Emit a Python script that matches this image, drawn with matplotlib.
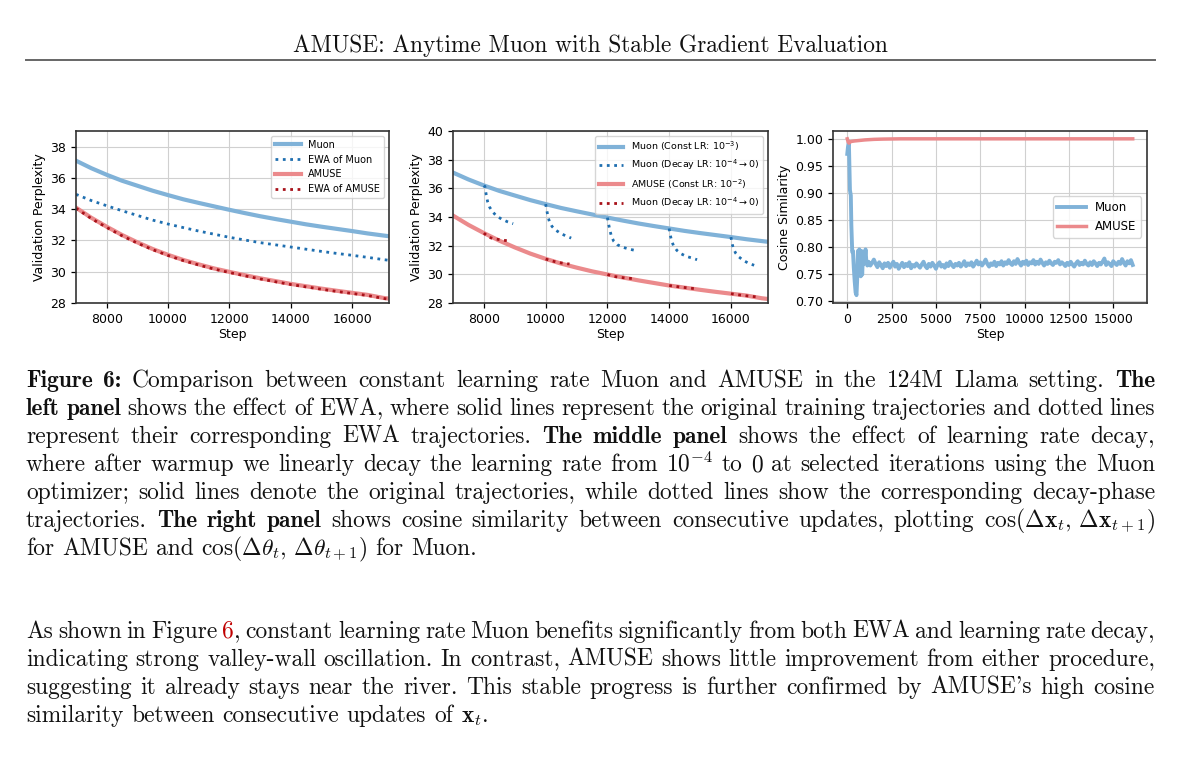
import re
import matplotlib
matplotlib.use("Agg")
import matplotlib.pyplot as plt

W, H = 1200, 764

# ---- left / middle panel: validation perplexity ----
steps = [7000, 7500, 8000, 8500, 9000, 9500, 10000, 10500, 11000, 11500, 12000,
         12500, 13000, 13500, 14000, 14500, 15000, 15500, 16000, 16500, 17000, 17200]
muon_ppl = [37.1, 36.62, 36.2, 35.82, 35.5, 35.18, 34.9, 34.63, 34.4, 34.18, 33.96,
            33.75, 33.55, 33.37, 33.2, 33.03, 32.88, 32.74, 32.6, 32.45, 32.32, 32.27]
muon_ewa = [34.95, 34.55, 34.22, 33.9, 33.6, 33.3, 33.05, 32.82, 32.6, 32.4, 32.2,
            32.03, 31.86, 31.72, 31.58, 31.44, 31.3, 31.17, 31.05, 30.92, 30.78, 30.73]
amuse_ppl = [34.1, 33.45, 32.88, 32.35, 31.88, 31.45, 31.08, 30.75, 30.47, 30.21, 29.99,
             29.78, 29.58, 29.4, 29.22, 29.07, 28.92, 28.78, 28.65, 28.52, 28.33, 28.28]
amuse_ewa = [34.06, 33.4, 32.83, 32.3, 31.83, 31.41, 31.04, 30.71, 30.43, 30.17, 29.95,
             29.74, 29.54, 29.36, 29.18, 29.03, 28.88, 28.74, 28.61, 28.48, 28.3, 28.24]

# decay-phase runs started from the constant-LR checkpoints
muon_decay_steps = [
    [8000, 8033, 8076, 8120, 8185, 8272, 8403, 8577, 8762, 8947],
    [10000, 10033, 10076, 10120, 10207, 10316, 10468, 10642, 10827],
    [12000, 12033, 12076, 12131, 12207, 12316, 12511, 12707, 12892],
    [14000, 14033, 14076, 14141, 14250, 14381, 14555, 14740, 14903],
    [16000, 16033, 16076, 16152, 16261, 16403, 16555, 16751],
]
muon_decay_ppl = [
    [36.2, 36.13, 35.55, 35.08, 34.69, 34.39, 34.08, 33.85, 33.67, 33.53],
    [34.9, 34.5, 34.04, 33.69, 33.34, 33.1, 32.88, 32.69, 32.53],
    [33.96, 33.57, 33.11, 32.65, 32.3, 32.07, 31.88, 31.76, 31.67],
    [33.2, 32.76, 32.37, 31.99, 31.67, 31.44, 31.25, 31.14, 31.02],
    [32.6, 32.18, 31.83, 31.48, 31.21, 30.97, 30.79, 30.63],
]
amuse_decay_steps = [
    [8000, 8141, 8326, 8544, 8762],
    [10000, 10174, 10392, 10577, 10773],
    [12000, 12185, 12403, 12620, 12838],
    [14000, 14196, 14414, 14631, 14816],
    [16000, 16207, 16425, 16642, 16860],
]
amuse_decay_ppl = [
    [32.88, 32.6, 32.48, 32.41, 32.34],
    [31.07, 30.95, 30.84, 30.77, 30.72],
    [29.99, 29.86, 29.79, 29.74, 29.70],
    [29.22, 29.16, 29.1, 29.05, 29.0],
    [28.65, 28.58, 28.52, 28.47, 28.42],
]

# ---- right panel: cosine similarity of consecutive updates ----
cos_steps_early = [0, 40, 90, 150, 200, 230, 280, 320, 370, 420, 470, 520, 560, 600,
                   640, 680, 720, 760, 800, 840, 880, 930, 980, 1030, 1080, 1130]
muon_cos_early = [0.972, 0.985, 0.995, 0.905, 0.895, 0.84, 0.79, 0.792, 0.76, 0.735,
                  0.715, 0.71, 0.74, 0.792, 0.76, 0.795, 0.775, 0.745, 0.792, 0.748,
                  0.78, 0.768, 0.775, 0.795, 0.77, 0.765]
cos_steps_late = list(range(1200, 16200, 100))
muon_cos_late = [
    0.772, 0.765, 0.770, 0.776, 0.768, 0.762, 0.771, 0.766, 0.760, 0.769,
    0.764, 0.770, 0.761, 0.767, 0.772, 0.763, 0.768, 0.759, 0.765, 0.770,
    0.762, 0.768, 0.764, 0.771, 0.760, 0.766, 0.763, 0.769, 0.765, 0.761,
    0.767, 0.772, 0.764, 0.760, 0.768, 0.763, 0.770, 0.765, 0.759, 0.767,
    0.771, 0.763, 0.766, 0.761, 0.769, 0.764, 0.772, 0.766, 0.762, 0.768,
    0.765, 0.770, 0.763, 0.767, 0.773, 0.764, 0.769, 0.766, 0.771, 0.763,
    0.768, 0.774, 0.767, 0.771, 0.765, 0.770, 0.776, 0.768, 0.763, 0.769,
    0.766, 0.772, 0.764, 0.770, 0.767, 0.773, 0.765, 0.771, 0.768, 0.775,
    0.769, 0.766, 0.773, 0.768, 0.777, 0.770, 0.765, 0.772, 0.768, 0.774,
    0.766, 0.771, 0.769, 0.775, 0.767, 0.772, 0.768, 0.776, 0.770, 0.765,
    0.771, 0.768, 0.774, 0.769, 0.766, 0.772, 0.770, 0.775, 0.767, 0.771,
    0.768, 0.764, 0.770, 0.766, 0.772, 0.767, 0.763, 0.769, 0.773, 0.766,
    0.770, 0.767, 0.774, 0.768, 0.765, 0.771, 0.766, 0.773, 0.769, 0.764,
    0.770, 0.767, 0.772, 0.778, 0.766, 0.771, 0.768, 0.764, 0.773, 0.769,
    0.766, 0.772, 0.768, 0.777, 0.770, 0.765, 0.773, 0.769, 0.775, 0.766,
]
amuse_cos_steps = [0, 50, 100, 200, 400, 700, 1000, 1500, 2000, 3000, 5000, 16100]
amuse_cos = [1.0, 0.994, 0.992, 0.995, 0.996, 0.997, 0.998, 0.999, 0.9995, 1.0, 1.0, 1.0]

# ---- page text ----
header = "AMUSE: Anytime Muon with Stable Gradient Evaluation"
caption_lines = [
    "**Figure 6:** Comparison between constant learning rate Muon and AMUSE in the 124M Llama setting. **The**",
    "**left panel** shows the effect of EWA, where solid lines represent the original training trajectories and dotted lines",
    "represent their corresponding EWA trajectories. **The middle panel** shows the effect of learning rate decay,",
    "where after warmup we linearly decay the learning rate from $10^{-4}$ to 0 at selected iterations using the Muon",
    "optimizer; solid lines denote the original trajectories, while dotted lines show the corresponding decay-phase",
    "trajectories. **The right panel** shows cosine similarity between consecutive updates, plotting "
    r"$\cos(\Delta\mathbf{x}_t,\,\Delta\mathbf{x}_{t+1})$",
    r"for AMUSE and $\cos(\Delta\theta_t,\,\Delta\theta_{t+1})$ for Muon.",
]
body_lines = [
    "As shown in Figure [[6]], constant learning rate Muon benefits significantly from both EWA and learning rate decay,",
    "indicating strong valley-wall oscillation. In contrast, AMUSE shows little improvement from either procedure,",
    "suggesting it already stays near the river. This stable progress is further confirmed by AMUSE's high cosine",
    r"similarity between consecutive updates of $\mathbf{x}_t$.",
]

BLUE = "#80b2d8"
RED = "#eb8a8c"
BLUE_DOT = "#1f6fb0"
RED_DOT = "#a8121a"
LINK_RED = "#c00000"

fig = plt.figure(figsize=(W / 100, H / 100), dpi=100)


def px_axes(x0, y0, x1, y1):
    return fig.add_axes([x0 / W, 1 - y1 / H, (x1 - x0) / W, (y1 - y0) / H])


def style(ax):
    ax.grid(True, color="#d0d0d0", linewidth=0.8)
    ax.set_axisbelow(True)
    for s in ax.spines.values():
        s.set_linewidth(1.2)
        s.set_color("#333333")
    ax.tick_params(labelsize=9, width=0.9, length=3.5)


# left panel
ax1 = px_axes(76, 131, 389, 303)
ax1.plot(steps, muon_ppl, color=BLUE, lw=3, label="Muon")
ax1.plot(steps, muon_ewa, color=BLUE_DOT, lw=2, ls=":", label="EWA of Muon")
ax1.plot(steps, amuse_ppl, color=RED, lw=3, label="AMUSE")
ax1.plot(steps, amuse_ewa, color=RED_DOT, lw=2, ls=":", label="EWA of AMUSE")
ax1.set_xlim(7000, 17200)
ax1.set_ylim(28, 39)
ax1.set_xticks([8000, 10000, 12000, 14000, 16000])
ax1.set_yticks([28, 30, 32, 34, 36, 38])
ax1.set_xlabel("Step", fontsize=9, labelpad=2)
ax1.set_ylabel("Validation Perplexity", fontsize=9, labelpad=3)
ax1.legend(loc="upper right", fontsize=7, handlelength=2.6, borderaxespad=0.5)
style(ax1)

# middle panel
ax2 = px_axes(453, 131, 768, 303)
ax2.plot(steps, muon_ppl, color=BLUE, lw=3, label=r"Muon (Const LR: $10^{-3}$)")
for i, (s, v) in enumerate(zip(muon_decay_steps, muon_decay_ppl)):
    ax2.plot(s, v, color=BLUE_DOT, lw=2, ls=":",
             label=r"Muon (Decay LR: $10^{-4} \rightarrow 0$)" if i == 0 else None)
ax2.plot(steps, amuse_ppl, color=RED, lw=3, label=r"AMUSE (Const LR: $10^{-2}$)")
for i, (s, v) in enumerate(zip(amuse_decay_steps, amuse_decay_ppl)):
    ax2.plot(s, v, color=RED_DOT, lw=2, ls=":",
             label=r"Muon (Decay LR: $10^{-4} \rightarrow 0$)" if i == 0 else None)
ax2.set_xlim(7000, 17200)
ax2.set_ylim(28, 40)
ax2.set_xticks([8000, 10000, 12000, 14000, 16000])
ax2.set_yticks([28, 30, 32, 34, 36, 38, 40])
ax2.set_xlabel("Step", fontsize=9, labelpad=2)
ax2.set_ylabel("Validation Perplexity", fontsize=9, labelpad=3)
ax2.legend(loc="upper right", fontsize=6.8, handlelength=2.6, borderaxespad=0.5)
style(ax2)

# right panel
ax3 = px_axes(833, 131, 1147, 303)
ax3.plot(cos_steps_early + cos_steps_late, muon_cos_early + muon_cos_late,
         color=BLUE, lw=2.8, label="Muon")
ax3.plot(amuse_cos_steps, amuse_cos, color=RED, lw=2.5, label="AMUSE")
ax3.set_yticks([0.70, 0.75, 0.80, 0.85, 0.90, 0.95, 1.00])
ax3.set_xlabel("Step", fontsize=9, labelpad=2)
ax3.set_ylabel("Cosine Similarity", fontsize=9, labelpad=3)
ax3.legend(loc="center right", fontsize=8.5, handlelength=2.4)
style(ax3)

# ---- page text, laid out in pixels ----
renderer = fig.canvas.get_renderer()
X0, X1 = 26, 1155
TXT_SIZE = 16.9


def parse(line):
    words = []
    bold = False
    for raw in line.split(" "):
        w = raw
        wb = bold
        if w.startswith("**"):
            w = w[2:]
            wb = True
            bold = True
        if w.endswith("**"):
            w = w[:-2]
            bold = False
        parts = []
        for k, seg in enumerate(re.split(r"\[\[|\]\]", w)):
            if seg:
                parts.append((seg, wb, LINK_RED if k % 2 else "#111111"))
        words.append(parts)
    return words


def draw_line(line, baseline, justify):
    fy = 1 - baseline / H
    placed = []
    for parts in parse(line):
        objs = []
        for seg, b, col in parts:
            t = fig.text(0, fy, seg, fontsize=TXT_SIZE, color=col,
                         family="cmb10" if b else "cmr10", math_fontfamily="cm",
                         va="baseline", ha="left")
            objs.append((t, t.get_window_extent(renderer).width))
        placed.append(objs)
    widths = [sum(w for _, w in objs) for objs in placed]
    space = 0.333 * TXT_SIZE * 100 / 72
    if justify and len(placed) > 1:
        space = (X1 - X0 - sum(widths)) / (len(placed) - 1)
    x = X0
    for objs, wsum in zip(placed, widths):
        xx = x
        for t, w in objs:
            t.set_x(xx / W)
            xx += w
        x += wsum + space


# running header
ht = fig.text(590 / W, 1 - 52 / H, header, family="cmr10", fontsize=14,
              ha="center", va="baseline", color="#111111")
hw = ht.get_window_extent(renderer).width
ht.set_fontsize(14 * 596 / hw)
fig.add_artist(plt.Line2D([X0 / W, X1 / W], [1 - 60 / H, 1 - 60 / H],
                          color="#666666", lw=1.4))

for i, line in enumerate(caption_lines):
    draw_line(line, 387 + 28 * i, justify=i < len(caption_lines) - 1)
for i, line in enumerate(body_lines):
    draw_line(line, 638 + 28 * i, justify=i < len(body_lines) - 1)

fig.savefig("out.png", dpi=100)
